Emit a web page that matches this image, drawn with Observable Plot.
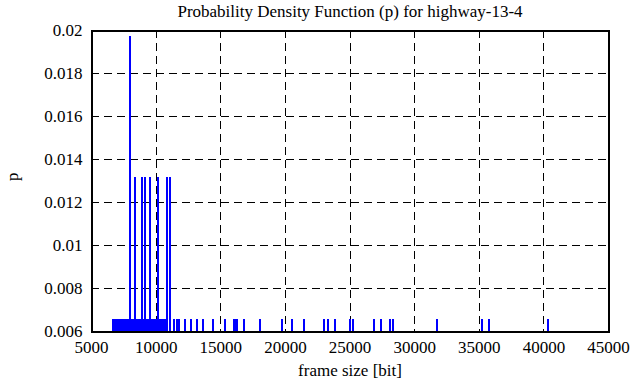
<!DOCTYPE html>
<html>
<head>
<meta charset="utf-8">
<script src="https://cdn.jsdelivr.net/npm/d3@7"></script>
<script src="https://cdn.jsdelivr.net/npm/@observablehq/plot@0.6"></script>
<style>
  html, body { margin: 0; padding: 0; background: white; }
  svg, svg text { font-family: "Liberation Serif", "Times New Roman", Times, "DejaVu Serif", serif !important; }
</style>
</head>
<body>
<div id="chart"></div>
<script>
const titleText = "Probability Density Function (p) for highway-13-4";
const xLabel = "frame size [bit]";
const yLabel = "p";
const xTicks = [5000, 10000, 15000, 20000, 25000, 30000, 35000, 40000, 45000];
const yTicks = [0.006, 0.008, 0.01, 0.012, 0.014, 0.016, 0.018, 0.02];

// frame sizes (bit) occurring 3 times, 2 times, once (p = count / 152)
const sizes3 = [8010];
const sizes2 = [8400, 8920, 9130, 9490, 10160, 10860, 11110];
const sizes1 = [6650, 6790, 6860, 6930, 7000, 7070, 7140, 7210, 7280, 7350, 7420, 7490, 7560, 7630,
  7700, 7770, 7840, 7910, 7980, 8080, 8160, 8240, 8320, 8480, 8560, 8640, 8720, 8800, 8860,
  9020, 9200, 9280, 9360, 9560, 9640, 9720, 9800, 9880, 9960, 10040, 10240, 10320, 10400,
  10480, 10560, 10640, 10720, 10790, 11040, 11360, 11620, 11740, 12240, 12660,
  13140, 13660, 14380, 15300, 16050, 16130, 16280, 16820, 18040, 19760, 20530, 21460,
  23010, 23320, 23860, 24990, 25250, 26880, 27420, 28090, 28320, 31760, 35210, 35780, 40350];
const p1 = 0.00658, p2 = 0.01316, p3 = 0.01974;

const data = [
  ...sizes1.map(s => ({size: s, p: p1})),
  ...sizes2.map(s => ({size: s, p: p2})),
  ...sizes3.map(s => ({size: s, p: p3}))
];

const yFmt = d => String(+d.toFixed(3));

const chart = Plot.plot({
  width: 636,
  height: 387,
  marginLeft: 91,
  marginRight: 28,
  marginTop: 30,
  marginBottom: 56,
  style: {fontFamily: "Liberation Serif, serif", fontSize: "17px", background: "white", color: "black"},
  x: {domain: [5000, 45000]},
  y: {domain: [0.006, 0.02]},
  marks: [
    Plot.ruleX(xTicks.slice(1, -1), {stroke: "black", strokeWidth: 1, strokeDasharray: "8,5", shapeRendering: "crispEdges"}),
    Plot.ruleY(yTicks.slice(1, -1), {stroke: "black", strokeWidth: 1, strokeDasharray: "8,5", shapeRendering: "crispEdges"}),
    Plot.ruleX(data, {x: "size", y1: 0.006, y2: "p", stroke: "blue", strokeWidth: 2, shapeRendering: "crispEdges"}),
    Plot.frame({stroke: "black", strokeWidth: 2, shapeRendering: "crispEdges"}),
    Plot.axisX({ticks: xTicks, tickSize: 0, tickPadding: 9, tickFormat: d => String(d), label: null, fontSize: 17}),
    Plot.axisY({ticks: yTicks, tickSize: 0, tickPadding: 9, tickFormat: yFmt, label: null, fontSize: 17}),
    Plot.text([titleText], {frameAnchor: "top", dy: -26, fontSize: 17, fill: "black"}),
    Plot.text([xLabel], {frameAnchor: "bottom", dy: 44, fontSize: 17, fill: "black"}),
    Plot.text([yLabel], {frameAnchor: "left", dx: -79, rotate: -90, fontSize: 17, fill: "black"})
  ]
});
document.getElementById("chart").appendChild(chart);
</script>
</body>
</html>
